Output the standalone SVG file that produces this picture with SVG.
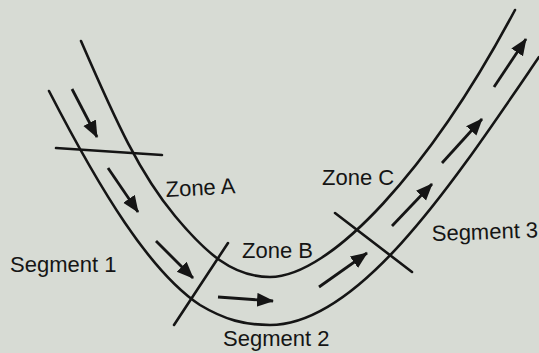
<svg xmlns="http://www.w3.org/2000/svg" width="539" height="353" viewBox="0 0 539 353">
  <style>
    .wall { fill: none; stroke: #151515; stroke-width: 2.6; stroke-linecap: round; }
    .cut { stroke: #151515; stroke-width: 2.6; stroke-linecap: round; }
    .flow { stroke: #151515; stroke-width: 2.8; marker-end: url(#head); }
    .lbl { font-family: "Liberation Sans", Arial, sans-serif; font-size: 22px; fill: #151515; }
  </style>
  <defs>
    <marker id="head" markerUnits="userSpaceOnUse" markerWidth="18" markerHeight="16" refX="16" refY="7" orient="auto">
      <path d="M0,0 L17,7 L0,14 Z" fill="#151515"/>
    </marker>
  </defs>
  <rect width="539" height="353" fill="#d7dbd4"/>
  <g id="channel">
    <path class="wall" d="M81,41 C117,124 140,174 175,216 C205,252 232,277 270,277 C330,277 430,170 515,10"/>
    <path class="wall" d="M49,91 C100,190 150,272 200,305 C225,320 245,325 270,325 C360,325 455,180 539,57"/>
  </g>
  <g id="sections">
    <line class="cut" x1="56" y1="148" x2="162" y2="155"/>
    <line class="cut" x1="228" y1="243" x2="174" y2="325"/>
    <line class="cut" x1="335" y1="213" x2="412" y2="272"/>
  </g>
  <g id="connectors">
    <line class="flow" x1="72" y1="89" x2="97" y2="137"/>
    <line class="flow" x1="108" y1="168" x2="138" y2="212"/>
    <line class="flow" x1="156" y1="241" x2="193" y2="278"/>
    <line class="flow" x1="218" y1="297" x2="273" y2="301"/>
    <line class="flow" x1="319" y1="287" x2="367" y2="253"/>
    <line class="flow" x1="392" y1="226" x2="432" y2="184"/>
    <line class="flow" x1="442" y1="163" x2="482" y2="119"/>
    <line class="flow" x1="494" y1="87" x2="526" y2="39"/>
  </g>
  <g id="zone-a"><text class="lbl" x="166" y="197" transform="rotate(-3 166 197)">Zone A</text></g>
  <g id="zone-b"><text class="lbl" x="242" y="258">Zone B</text></g>
  <g id="zone-c"><text class="lbl" x="322" y="185">Zone C</text></g>
  <g id="segment-1"><text class="lbl" x="10" y="272">Segment 1</text></g>
  <g id="segment-2"><text class="lbl" x="223" y="346">Segment 2</text></g>
  <g id="segment-3"><text class="lbl" x="432" y="241" transform="rotate(-2 432 241)">Segment 3</text></g>
</svg>
